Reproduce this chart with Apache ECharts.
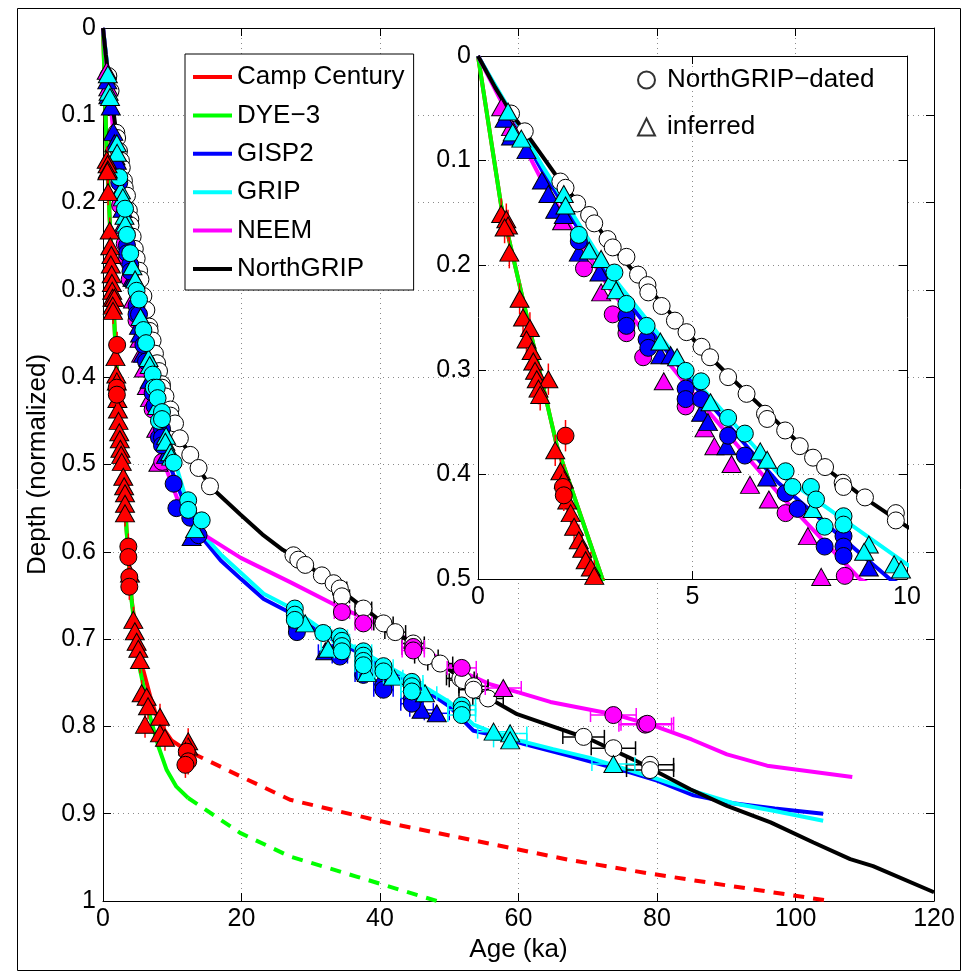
<!DOCTYPE html>
<html lang="en">
<head>
<meta charset="UTF-8">
<title>Depth vs age</title>
<script src="https://cdn.jsdelivr.net/npm/echarts@6/dist/echarts.min.js"></script>
<style>
  html, body { margin: 0; padding: 0; background: #fff; }
  #main { width: 972px; height: 974px; }
</style>
</head>
<body>
<div id="main"></div>
<script>
// lines: [age (ka), normalized depth]
var campCenturyLine = [[0,0],[0.54,0.143],[1.84,0.373],[2.9,0.5],[3.4,0.575],[4.14,0.655],[4.9,0.70],[5.8,0.735],[6.8,0.765],[7.6,0.785],[8.5,0.80],[9.9,0.816],[11.6,0.825],[13,0.831]];
var campCenturyDash = [[13,0.831],[19.8,0.857],[27,0.884],[41.4,0.911],[55,0.933],[67.4,0.953],[78.5,0.968],[90,0.982],[105,1.0]];
var dye3Line = [[0,0],[0.54,0.143],[1.84,0.373],[2.9,0.5],[3.4,0.575],[4.14,0.657],[5.34,0.735],[6.8,0.789],[8.0,0.823],[9.2,0.85],[10.6,0.869],[12.3,0.882]];
var dye3Dash = [[12.3,0.882],[19.8,0.922],[27,0.949],[36.6,0.972],[48.2,1.0]];
var gisp2Line = [[0,0],[1.5,0.11],[3.06,0.213],[5.04,0.315],[7,0.408],[9.6,0.5],[12,0.55],[14.1,0.582],[17,0.61],[19.9,0.631],[23.2,0.654],[27.1,0.67],[31.8,0.695],[36.8,0.715],[42,0.74],[46.3,0.757],[50,0.777],[53.5,0.805],[56.4,0.81],[60.7,0.82],[67.5,0.834],[76.2,0.853],[80,0.862],[85.3,0.879],[91,0.888],[97,0.894],[104,0.9]];
var gripLine = [[0,0],[1.5,0.105],[3.06,0.207],[5.04,0.309],[7,0.399],[10,0.486],[12,0.54],[14.1,0.577],[17,0.603],[19.9,0.624],[23.2,0.648],[27.1,0.664],[31.8,0.69],[37.6,0.715],[42,0.735],[46.5,0.755],[50,0.772],[53.5,0.798],[56.4,0.807],[60,0.816],[65,0.826],[70.3,0.836],[76,0.85],[80,0.86],[86,0.876],[91,0.888],[97,0.897],[104,0.908]];
var neemLine = [[0,0],[1.5,0.12],[3.06,0.222],[5.04,0.324],[7,0.418],[8.9,0.5],[11,0.545],[14.1,0.578],[19.9,0.607],[27.1,0.635],[34.3,0.664],[41.5,0.689],[46,0.71],[51.2,0.735],[56,0.752],[60,0.761],[64.6,0.772],[73.7,0.786],[79.5,0.799],[85,0.815],[90.1,0.832],[95.9,0.845],[108.2,0.858]];
var northGripLine = [[0,0],[0.4,0.03],[0.77,0.055],[1.09,0.072],[1.92,0.12],[2.59,0.152],[3.14,0.183],[3.93,0.22],[4.57,0.25],[5.2,0.279],[5.83,0.305],[6.7,0.339],[7.45,0.369],[8.04,0.392],[8.99,0.422],[10,0.45],[11.1,0.47],[12.6,0.489],[13.8,0.504],[15.45,0.525],[19.8,0.557],[23,0.58],[26,0.598],[27.5,0.604],[31.6,0.627],[34.5,0.645],[37.6,0.664],[40.5,0.682],[44.8,0.706],[48.7,0.728],[53.5,0.754],[56,0.769],[59.8,0.786],[64.6,0.799],[70.4,0.815],[76.6,0.838],[84.8,0.872],[90.1,0.891],[96.4,0.91],[102.6,0.933],[107.9,0.952],[111.2,0.96],[120,0.99]];

// markers: [age, depth, age error, depth error]
var ccTri = [[0.54,0.151,0,0.015],[0.66,0.156,0,0.015],[0.70,0.162,0,0.015],[0.62,0.164,0,0.015],[0.73,0.188,0,0.015],[0.97,0.232,0,0.015],[1.05,0.25,0,0.015],[1.21,0.26,0,0.015],[1.13,0.271,0,0.015],[1.25,0.282,0,0.015],[1.29,0.292,0,0.015],[1.33,0.301,0,0.015],[1.37,0.309,0,0.015],[1.64,0.309,0,0.015],[1.41,0.318,0,0.015],[1.45,0.324,0,0.015],[1.8,0.377,0,0.015],[1.92,0.397,0,0.015],[2.0,0.405,0,0.015],[2.08,0.425,0,0.015],[2.16,0.437,0,0.015],[2.24,0.45,0,0.015],[2.35,0.463,0,0.015],[2.43,0.471,0,0.015],[2.51,0.482,0,0.015],[2.63,0.489,0,0.015],[2.71,0.497,0,0.015],[2.93,0.514,0,0.015],[3.05,0.525,0,0.015],[3.18,0.533,0,0.015],[3.18,0.545,0,0.015],[3.18,0.556,0,0.015],[3.9,0.625,0,0.015],[4.38,0.678,0,0.015],[4.6,0.691,0,0.015],[4.86,0.703,0,0.015],[5.1,0.711,0,0.015],[5.34,0.724,0,0.015],[5.58,0.762,0,0.015],[6.3,0.766,0,0.015],[6.5,0.777,0,0.015],[6.07,0.798,0,0.015],[8.23,0.789,0,0.015],[8.23,0.808,0,0.015],[8.95,0.813,0,0.015],[12.3,0.817,0,0.015],[12.3,0.823,0,0.015]];
var ccCirc = [[2.04,0.363,0,0.015],[1.98,0.412,0,0.015],[2.0,0.42,0,0.015],[3.66,0.594,0,0.015],[3.66,0.606,0,0.015],[3.8,0.629,0,0.015],[3.8,0.64,0,0.015],[12.1,0.829,0,0.015],[12.3,0.84,0,0.015],[11.9,0.844,0,0.015]];
var gispCirc = [[2.35,0.177,0,0],[3.46,0.249,0,0],[3.46,0.258,0,0],[3.93,0.271,0,0],[3.97,0.279,0,0],[4.84,0.318,0,0],[4.84,0.328,0,0],[5.2,0.328,0,0],[5.83,0.363,0,0],[6.22,0.382,0,0],[7.17,0.418,0,0],[7.45,0.433,0,0],[8.08,0.469,0,0],[8.52,0.459,0,0],[8.52,0.469,0,0],[8.52,0.478,0,0],[10.2,0.522,0,0],[10.6,0.55,0,0],[12.6,0.561,0,0],[13.8,0.581,0,0],[28.0,0.685,0,0],[28.0,0.692,0,0],[34.2,0.714,1.1,0],[34.2,0.72,1.1,0],[37.6,0.735,1.2,0],[37.6,0.741,1.2,0],[40.5,0.752,1.4,0],[40.5,0.758,1.4,0],[44.6,0.768,1.6,0],[44.6,0.774,1.6,0]];
var gispTri = [[0.62,0.06,0,0],[0.77,0.077,0,0],[1.13,0.09,0,0],[1.49,0.119,0,0],[1.64,0.132,0,0],[1.8,0.147,0,0],[2.0,0.152,0,0],[2.35,0.188,0,0],[2.83,0.207,0,0],[4.25,0.286,0,0],[4.49,0.286,0,0],[5.2,0.341,0,0],[5.36,0.35,0,0],[5.79,0.373,0,0],[6.74,0.403,0,0],[9.11,0.489,0,0],[12.8,0.583,0,0],[32.1,0.714,1.0,0],[46.0,0.781,1.7,0],[48.2,0.785,1.8,0]];
var gripCirc = [[2.35,0.171,0,0],[3.18,0.207,0,0],[3.46,0.237,0,0],[3.93,0.258,0,0],[4.84,0.301,0,0],[5.2,0.311,0,0],[5.83,0.346,0,0],[6.22,0.361,0,0],[7.17,0.397,0,0],[7.33,0.412,0,0],[7.76,0.412,0,0],[7.88,0.424,0,0],[8.08,0.45,0,0],[8.52,0.44,0,0],[8.52,0.448,0,0],[10.2,0.498,0,0],[12.3,0.541,0,0],[12.3,0.552,0,0],[14.25,0.564,0,0],[27.7,0.665,0,0],[27.7,0.672,0,0],[27.7,0.678,0,0],[31.8,0.693,1.0,0],[34.2,0.697,1.1,0],[34.5,0.702,1.1,0],[34.5,0.708,1.1,0],[34.5,0.714,1.1,0],[37.6,0.714,1.2,0],[37.6,0.719,1.2,0],[37.6,0.725,1.2,0],[37.6,0.73,1.2,0],[40.5,0.731,1.4,0],[40.5,0.737,1.4,0],[44.6,0.749,1.6,0],[44.6,0.754,1.6,0],[44.6,0.76,1.6,0],[51.8,0.776,2.0,0],[51.8,0.781,2.0,0],[51.8,0.787,2.0,0]];
var gripTri = [[0.7,0.053,0,0],[0.81,0.073,0,0],[1.01,0.079,0,0],[2.0,0.132,0,0],[2.04,0.143,0,0],[2.59,0.186,0,0],[2.87,0.194,0,0],[3.1,0.215,0,0],[3.22,0.224,0,0],[4.25,0.273,0,0],[4.64,0.288,0,0],[5.42,0.331,0,0],[6.58,0.378,0,0],[6.74,0.386,0,0],[7.8,0.433,0,0],[9.11,0.467,0,0],[9.0,0.474,0,0],[9.7,0.486,0,0],[9.86,0.491,0,0],[13.3,0.574,0,0],[29.2,0.682,0,0],[32.5,0.711,1.0,0],[38.1,0.739,1.2,0],[41.9,0.743,1.4,0],[46.5,0.762,1.7,0],[56.4,0.806,2.3,0],[58.8,0.808,2.4,0],[58.8,0.816,2.4,0],[73.7,0.843,3.1,0]];
var neemCirc = [[2.47,0.203,0,0],[3.14,0.247,0,0],[3.46,0.265,0,0],[3.85,0.288,0,0],[4.84,0.335,0,0],[7.17,0.437,0,0],[8.55,0.497,0,0],[34.5,0.669,1.1,0],[37.6,0.682,1.2,0],[44.8,0.709,1.6,0],[44.8,0.713,1.6,0],[51.8,0.733,2.1,0],[73.7,0.787,3.3,0],[78.3,0.798,3.8,0],[78.6,0.797,3.8,0]];
var neemTri = [[0.54,0.049,0,0.006],[0.77,0.068,0,0.006],[1.96,0.158,0,0.006],[2.87,0.226,0,0.006],[4.33,0.311,0,0.006],[5.28,0.356,0,0.006],[5.51,0.373,0,0.006],[5.91,0.39,0,0.006],[6.34,0.41,0,0.006],[6.78,0.424,0,0.006],[7.69,0.459,0,0.006],[8.0,0.498,0,0.006],[57.8,0.756,2.6,0]];
var ngripCirc = [[0.77,0.055,0,0],[1.09,0.072,0,0],[1.92,0.12,0,0],[2.04,0.126,0,0],[2.31,0.141,0,0],[2.59,0.152,0,0],[2.71,0.16,0,0],[3.02,0.175,0,0],[3.14,0.183,0,0],[3.46,0.192,0,0],[3.73,0.209,0,0],[3.95,0.219,0,0],[3.97,0.226,0,0],[4.28,0.239,0,0],[4.59,0.253,0,0],[4.86,0.264,0,0],[5.21,0.278,0,0],[5.41,0.288,0,0],[5.83,0.307,0,0],[6.26,0.323,0,0],[6.69,0.342,0,0],[6.74,0.347,0,0],[7.16,0.358,0,0],[7.5,0.373,0,0],[7.81,0.384,0,0],[8.09,0.393,0,0],[8.5,0.408,0,0],[8.52,0.412,0,0],[9.02,0.422,0,0],[9.74,0.437,0,0],[9.74,0.444,0,0],[10.4,0.453,0,0],[11.1,0.47,0,0],[12.6,0.489,0,0],[13.8,0.504,0,0],[15.45,0.525,0,0],[27.5,0.604,0,0],[28.2,0.609,0,0],[29.2,0.615,0,0],[31.6,0.627,0,0],[33.3,0.636,0,0],[34.2,0.642,1.0,0],[34.5,0.651,1.1,0],[37.6,0.665,1.2,0],[40.5,0.682,1.4,0],[42.2,0.692,1.5,0],[44.8,0.705,1.6,0],[44.8,0.71,1.6,0],[46.7,0.72,1.7,0],[48.7,0.728,1.8,0],[51.6,0.745,2.0,0],[52.0,0.747,2.0,0],[53.5,0.754,2.1,0],[53.5,0.758,2.1,0],[55.6,0.768,2.2,0],[69.4,0.812,3.0,0],[73.7,0.825,3.2,0],[79.0,0.844,3.4,0],[79.0,0.85,3.4,0]];

var mainXTicks = [0, 120, 20];
var mainYTicks = [0, 1, 0.1];
var insetXTicks = [0, 10, 5];
var insetYTicks = [0, 0.5, 0.1];

var FONT = '"Liberation Sans", Arial, Helvetica, sans-serif';
var RED = '#ff0000', GREEN = '#00ff00', BLUE = '#0000ff', CYAN = '#00ffff', MAGENTA = '#ff00ff', BLACK = '#000000';

var chart = echarts.init(document.getElementById('main'));

function axes(gridIndex, ticks, isX, showGrid, zl, name) {
  var common = {
    gridIndex: gridIndex, type: 'value',
    min: ticks[0], max: ticks[1], interval: ticks[2],
    zlevel: zl, z: 1,
    axisLine: { show: true, onZero: false, lineStyle: { color: '#000', width: 1 } },
    axisTick: { show: true, inside: true, length: 8, lineStyle: { color: '#000', width: 1 } },
    splitLine: { show: false }
  };
  var a = Object.assign({}, common, {
    position: isX ? 'bottom' : 'left',
    axisLabel: { show: true, color: '#000', fontSize: 25, fontFamily: FONT, margin: isX ? 6 : 7 },
    splitLine: { show: showGrid, lineStyle: { color: '#8a8a8a', width: 1, type: [1, 4] } }
  });
  if (!isX) a.inverse = true;
  if (name) {
    a.name = name;
    a.nameLocation = 'middle';
    a.nameTextStyle = { color: '#000', fontSize: 26, fontFamily: FONT };
    a.nameGap = isX ? 34 : 50;
  }
  var b = Object.assign({}, common, {
    position: isX ? 'top' : 'right',
    axisLabel: { show: false }
  });
  if (!isX) b.inverse = true;
  return [a, b];
}

var xAxes = axes(0, mainXTicks, true, true, 0, 'Age (ka)').concat(axes(1, insetXTicks, true, true, 1));
var yAxes = axes(0, mainYTicks, false, true, 0, 'Depth (normalized)').concat(axes(1, insetYTicks, false, true, 1));

function lineSeries(name, data, color, g, dashed, z) {
  return {
    name: name, type: 'line', data: data,
    xAxisIndex: g ? 2 : 0, yAxisIndex: g ? 2 : 0, zlevel: g, z: z,
    symbol: 'none', clip: true, smooth: false,
    lineStyle: { color: color, width: 4, type: dashed ? [11, 9] : 'solid' },
    itemStyle: { color: color },
    silent: true
  };
}

function errSeries(data, color, g, z) {
  return {
    type: 'custom', data: data, encode: { x: 0, y: 1 },
    xAxisIndex: g ? 2 : 0, yAxisIndex: g ? 2 : 0, zlevel: g, z: z, clip: true, silent: true,
    renderItem: function (params, api) {
      var x = api.value(0), y = api.value(1), ex = api.value(2), ey = api.value(3);
      var st = { stroke: color, lineWidth: 1.5 };
      var kids = [];
      if (ex > 0) {
        var a = api.coord([x - ex, y]), b = api.coord([x + ex, y]);
        kids.push({ type: 'line', shape: { x1: a[0], y1: a[1], x2: b[0], y2: b[1] }, style: st });
        kids.push({ type: 'line', shape: { x1: a[0], y1: a[1] - 7, x2: a[0], y2: a[1] + 7 }, style: st });
        kids.push({ type: 'line', shape: { x1: b[0], y1: b[1] - 7, x2: b[0], y2: b[1] + 7 }, style: st });
      }
      if (ey > 0) {
        var p = api.coord([x, y - ey]), q = api.coord([x, y + ey]);
        kids.push({ type: 'line', shape: { x1: p[0], y1: p[1], x2: q[0], y2: q[1] }, style: st });
      }
      return { type: 'group', children: kids };
    }
  };
}

function markSeries(data, fill, symbol, g, z) {
  return {
    type: 'scatter', data: data, encode: { x: 0, y: 1 },
    xAxisIndex: g ? 2 : 0, yAxisIndex: g ? 2 : 0, zlevel: g, z: z, clip: true, silent: true,
    symbol: symbol, symbolSize: symbol === 'circle' ? 17 : [19, 17],
    itemStyle: { color: fill, borderColor: '#000', borderWidth: 1, opacity: 1 }
  };
}

var series = [];
[0, 1].forEach(function (g) {
  var sfx = g ? ' ' : '';
  series.push(lineSeries('Camp Century' + sfx, campCenturyLine, RED, g, false, 2));
  series.push(lineSeries('DYE−3' + sfx, dye3Line, GREEN, g, false, 2));
  series.push(lineSeries('GISP2' + sfx, gisp2Line, BLUE, g, false, 2));
  series.push(lineSeries('GRIP' + sfx, gripLine, CYAN, g, false, 2));
  series.push(lineSeries('NEEM' + sfx, neemLine, MAGENTA, g, false, 2));
  series.push(lineSeries('NorthGRIP' + sfx, northGripLine, BLACK, g, false, 2));
  series.push(lineSeries('cc-extrap' + sfx, campCenturyDash, RED, g, true, 2));
  series.push(lineSeries('dye3-extrap' + sfx, dye3Dash, GREEN, g, true, 2));

  var sets = [
    [ngripCirc, BLACK, '#ffffff', 'circle'],
    [neemTri, MAGENTA, MAGENTA, 'triangle'],
    [neemCirc, MAGENTA, MAGENTA, 'circle'],
    [gispTri, BLUE, BLUE, 'triangle'],
    [gispCirc, BLUE, BLUE, 'circle'],
    [gripTri, CYAN, CYAN, 'triangle'],
    [gripCirc, CYAN, CYAN, 'circle'],
    [ccTri, RED, RED, 'triangle'],
    [ccCirc, RED, RED, 'circle']
  ];
  var z = 3;
  sets.forEach(function (s) {
    series.push(errSeries(s[0], s[1], g, z));
    series.push(markSeries(s[0], s[2], s[3], g, z + 1));
    z += 2;
  });
});
// legend-only entries for the marker key
series.push({ name: 'NorthGRIP−dated', type: 'scatter', data: [], xAxisIndex: 2, yAxisIndex: 2, zlevel: 1,
  symbol: 'circle', itemStyle: { color: '#fff', borderColor: '#000', borderWidth: 1 } });
series.push({ name: 'inferred', type: 'scatter', data: [], xAxisIndex: 2, yAxisIndex: 2, zlevel: 1,
  symbol: 'triangle', itemStyle: { color: '#fff', borderColor: '#000', borderWidth: 1 } });

var option = {
  animation: false,
  backgroundColor: '#fff',
  textStyle: { fontFamily: FONT, color: '#000' },
  grid: [
    { left: 103, top: 28, width: 831, height: 873, show: false, containLabel: false },
    { left: 478, top: 56, width: 429, height: 523, show: true, backgroundColor: '#fff', borderWidth: 0, zlevel: 1, z: 0, containLabel: false }
  ],
  xAxis: xAxes,
  yAxis: yAxes,
  legend: [
    {
      data: ['Camp Century', 'DYE−3', 'GISP2', 'GRIP', 'NEEM', 'NorthGRIP'],
      orient: 'vertical', left: 185, top: 54,
      icon: 'rect', itemWidth: 39, itemHeight: 4, itemGap: 12.4,
      padding: [10, 9, 8, 8],
      backgroundColor: '#fff', borderColor: '#000', borderWidth: 1, borderRadius: 0,
      textStyle: { fontSize: 26, color: '#000', fontFamily: FONT },
      selectedMode: false, z: 20
    },
    {
      data: ['NorthGRIP−dated', 'inferred'],
      orient: 'vertical', left: 637, top: 67, zlevel: 1, z: 30,
      itemWidth: 17, itemHeight: 17, itemGap: 21,
      padding: 0,
      textStyle: { fontSize: 26, color: '#000', fontFamily: FONT, padding: [0, 0, 0, 7] },
      selectedMode: false
    }
  ],
  graphic: [
    { type: 'rect', left: 15, top: 6, shape: { width: 943, height: 962 }, style: { fill: 'none', stroke: '#000', lineWidth: 1 }, silent: true, z: 100 }
  ],
  series: series
};

chart.setOption(option);
</script>
</body>
</html>
